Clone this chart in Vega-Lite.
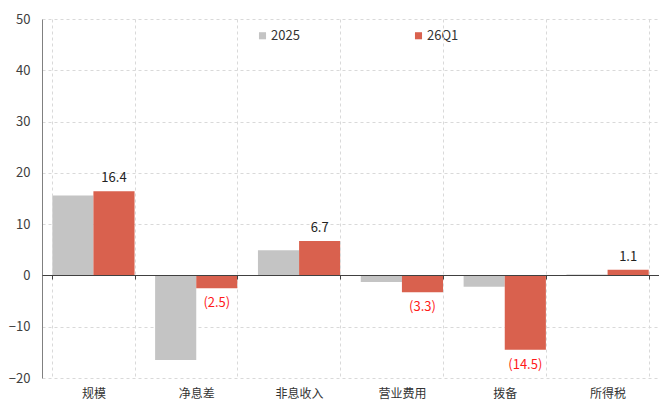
{
  "$schema": "https://vega.github.io/schema/vega-lite/v6.json",
  "width": 617,
  "height": 359,
  "autosize": {"type": "none"},
  "padding": {"left": 42, "top": 19, "right": 0, "bottom": 25},
  "config": {"font": "Noto Sans CJK SC", "view": {"stroke": null}},
  "data": {
    "values": [
      {"cat": "规模", "series": "2025", "v": 15.6, "label": ""},
      {"cat": "规模", "series": "26Q1", "v": 16.4, "label": "16.4"},
      {"cat": "净息差", "series": "2025", "v": -16.5, "label": ""},
      {"cat": "净息差", "series": "26Q1", "v": -2.5, "label": "(2.5)"},
      {"cat": "非息收入", "series": "2025", "v": 4.9, "label": ""},
      {"cat": "非息收入", "series": "26Q1", "v": 6.7, "label": "6.7"},
      {"cat": "营业费用", "series": "2025", "v": -1.3, "label": ""},
      {"cat": "营业费用", "series": "26Q1", "v": -3.3, "label": "(3.3)"},
      {"cat": "拨备", "series": "2025", "v": -2.2, "label": ""},
      {"cat": "拨备", "series": "26Q1", "v": -14.5, "label": "(14.5)"},
      {"cat": "所得税", "series": "2025", "v": 0.2, "label": ""},
      {"cat": "所得税", "series": "26Q1", "v": 1.1, "label": "1.1"}
    ]
  },
  "encoding": {
    "x": {
      "field": "cat",
      "type": "nominal",
      "sort": null,
      "scale": {"paddingInner": 0.2, "paddingOuter": 0.1},
      "axis": {
        "title": null,
        "orient": "bottom",
        "offset": -103,
        "domain": true,
        "domainColor": "#404040",
        "ticks": true,
        "tickSize": 4,
        "tickColor": "#404040",
        "tickBand": "extent",
        "grid": true,
        "gridDash": [3, 3],
        "gridColor": "#d9d9d9",
        "labelAngle": 0,
        "labelFontSize": 12,
        "labelColor": "#333333",
        "labelPadding": 109,
        "zindex": 1
      }
    },
    "xOffset": {"field": "series", "scale": {"domain": ["2025", "26Q1"], "paddingInner": 0}},
    "y": {
      "field": "v",
      "type": "quantitative",
      "scale": {"domain": [-20, 50], "nice": false},
      "axis": {
        "title": null,
        "values": [-20, -10, 0, 10, 20, 30, 40, 50],
        "grid": true,
        "gridDash": [3, 3],
        "gridColor": "#d9d9d9",
        "domainColor": "#808080",
        "ticks": false,
        "labelPadding": 12,
        "labelFontSize": 13,
        "labelColor": "#404040"
      }
    }
  },
  "layer": [
    {
      "mark": {"type": "bar"},
      "encoding": {
        "color": {
          "field": "series",
          "type": "nominal",
          "scale": {"domain": ["2025", "26Q1"], "range": ["#c4c4c4", "#d9614e"]},
          "legend": {
            "title": null,
            "orient": "none",
            "legendX": 214,
            "legendY": 10,
            "direction": "horizontal",
            "columns": 2,
            "columnPadding": 112,
            "symbolType": "square",
            "symbolSize": 50,
            "labelFontSize": 13,
            "labelColor": "#333333",
            "labelOffset": 2
          }
        }
      }
    },
    {
      "transform": [{"filter": "datum.series == '26Q1' && datum.v >= 0"}],
      "mark": {"type": "text", "fontSize": 13, "dy": -13, "color": "#222222"},
      "encoding": {"text": {"field": "label"}}
    },
    {
      "transform": [{"filter": "datum.series == '26Q1' && datum.v < 0"}],
      "mark": {"type": "text", "fontSize": 13, "dy": 15, "color": "#ff1a1a"},
      "encoding": {"text": {"field": "label"}}
    }
  ]
}
